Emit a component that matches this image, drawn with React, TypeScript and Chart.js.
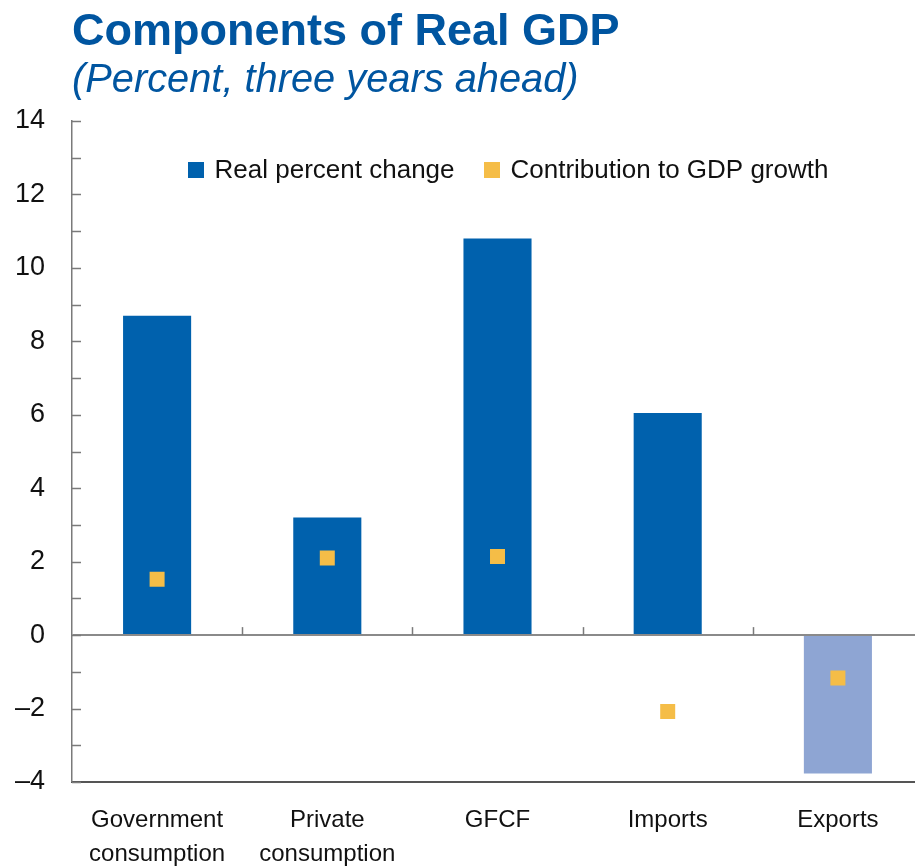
import React, { useEffect, useRef } from 'react';
import { Chart, registerables } from 'chart.js';

Chart.register(...registerables);

const titleText = 'Components of Real GDP';
const subtitleText = '(Percent, three years ahead)';
const categories: string[][] = [
  ['Government', 'consumption'],
  ['Private', 'consumption'],
  ['GFCF'],
  ['Imports'],
  ['Exports'],
];
const seriesNames = ['Real percent change', 'Contribution to GDP growth'];
const realPercentChange = [8.7, 3.2, 10.8, 6.05, -3.77];
const contributionToGrowth = [1.52, 2.1, 2.14, -2.08, -1.17];
const barColors = ['#0061AD', '#0061AD', '#0061AD', '#0061AD', '#8EA5D3'];
const yMin = -4;
const yMax = 14;
const yStep = 2;

const BLUE = '#0061AD';
const YELLOW = '#F5BD47';
const SANS = "'Liberation Sans', Arial, sans-serif";

const axisDecor = {
  id: 'axisDecor',
  afterDatasetsDraw(chart: any) {
    const { ctx, chartArea, scales } = chart;
    const x = scales.x;
    const y = scales.y;
    ctx.save();
    ctx.strokeStyle = '#7a7a7a';
    ctx.lineWidth = 1.5;
    for (let v = yMin; v <= yMax; v += 1) {
      const py = Math.round(y.getPixelForValue(v)) + 0.5;
      ctx.beginPath();
      ctx.moveTo(chartArea.left, py);
      ctx.lineTo(chartArea.left + 9, py);
      ctx.stroke();
    }
    const y0 = y.getPixelForValue(0);
    for (let i = 1; i < categories.length; i++) {
      const px = Math.round((x.getPixelForValue(i - 1) + x.getPixelForValue(i)) / 2) + 0.5;
      ctx.beginPath();
      ctx.moveTo(px, y0);
      ctx.lineTo(px, y0 - 8);
      ctx.stroke();
    }
    ctx.restore();
  },
};

const legendDecor = {
  id: 'legendDecor',
  afterDraw(chart: any) {
    const { ctx, chartArea } = chart;
    const datasets = chart.data.datasets;
    const box = 16;
    const gap = 11;
    const itemGap = 29;
    ctx.save();
    ctx.font = `26px ${SANS}`;
    ctx.textBaseline = 'middle';
    ctx.textAlign = 'left';
    const widths = datasets.map((ds: any) => ctx.measureText(ds.label).width);
    const total =
      widths.reduce((a: number, w: number) => a + box + gap + w, 0) + itemGap * (datasets.length - 1);
    let x = (chartArea.left + chartArea.right) / 2 + 10.5 - total / 2;
    const cy = chartArea.top + 49;
    datasets.forEach((ds: any, i: number) => {
      ctx.fillStyle = i === 0 ? BLUE : YELLOW;
      ctx.fillRect(Math.round(x), Math.round(cy - box / 2), box, box);
      ctx.fillStyle = '#111';
      ctx.fillText(ds.label, x + box + gap, cy + 1);
      x += box + gap + widths[i] + itemGap;
    });
    ctx.restore();
  },
};

export default function App() {
  const canvasRef = useRef<HTMLCanvasElement | null>(null);

  useEffect(() => {
    const canvas = canvasRef.current;
    if (!canvas) return;
    const chart = new Chart(canvas, {
      type: 'bar',
      data: {
        labels: categories,
        datasets: [
          {
            type: 'bar',
            label: seriesNames[0],
            data: realPercentChange,
            backgroundColor: barColors,
            borderWidth: 0,
            barPercentage: 0.4,
            categoryPercentage: 1,
            order: 2,
          } as any,
          {
            type: 'line',
            label: seriesNames[1],
            data: contributionToGrowth,
            showLine: false,
            pointStyle: 'rect',
            pointRadius: 10.6,
            pointHoverRadius: 10.6,
            pointBackgroundColor: YELLOW,
            pointBorderWidth: 0,
            borderColor: YELLOW,
            backgroundColor: YELLOW,
            order: 1,
          } as any,
        ],
      },
      options: {
        animation: false,
        responsive: false,
        maintainAspectRatio: false,
        layout: { autoPadding: false, padding: { top: 121, right: 0, bottom: 0, left: 0 } },
        plugins: {
          tooltip: { enabled: false },
          legend: { display: false },
        },
        scales: {
          x: {
            afterFit: (s: any) => {
              s.height = 85;
              s.paddingLeft = 0;
              s.paddingRight = 0;
            },
            grid: { display: false },
            border: { display: true, color: '#555', width: 2 },
            ticks: {
              color: '#111',
              font: { family: SANS, size: 24, lineHeight: 1.4 },
              padding: 14,
              maxRotation: 0,
              autoSkip: false,
            },
          },
          y: {
            min: yMin,
            max: yMax,
            afterFit: (s: any) => {
              s.width = 72;
            },
            grid: {
              drawOnChartArea: true,
              drawTicks: false,
              color: (c: any) => (c.tick && c.tick.value === 0 ? '#8a8a8a' : 'rgba(0,0,0,0)'),
              lineWidth: (c: any) => (c.tick && c.tick.value === 0 ? 2 : 0),
            },
            border: { display: true, color: '#7a7a7a', width: 1.5 },
            ticks: {
              stepSize: yStep,
              padding: 27,
              color: '#111',
              font: { family: SANS, size: 27 },
              callback: (v: any) => (Number(v) < 0 ? '\u2013' + Math.abs(Number(v)) : String(v)),
            },
          },
        },
      },
      plugins: [axisDecor, legendDecor],
    });
    return () => chart.destroy();
  }, []);

  return (
    <div style={{ position: 'absolute', left: 0, top: 0, width: 915, height: 867, background: '#fff', overflow: 'hidden' }}>
      <canvas ref={canvasRef} width={923} height={867} style={{ position: 'absolute', left: 0, top: 0 }} />
      <div
        style={{
          position: 'absolute',
          left: 72,
          top: 4,
          fontFamily: SANS,
          fontWeight: 'bold',
          fontSize: 45,
          color: '#0055A0',
          whiteSpace: 'nowrap',
          lineHeight: 'normal',
        }}
      >
        {titleText}
      </div>
      <div
        style={{
          position: 'absolute',
          left: 72,
          top: 56,
          fontFamily: SANS,
          fontStyle: 'italic',
          fontSize: 39.8,
          color: '#0055A0',
          whiteSpace: 'nowrap',
          lineHeight: 'normal',
        }}
      >
        {subtitleText}
      </div>
    </div>
  );
}
